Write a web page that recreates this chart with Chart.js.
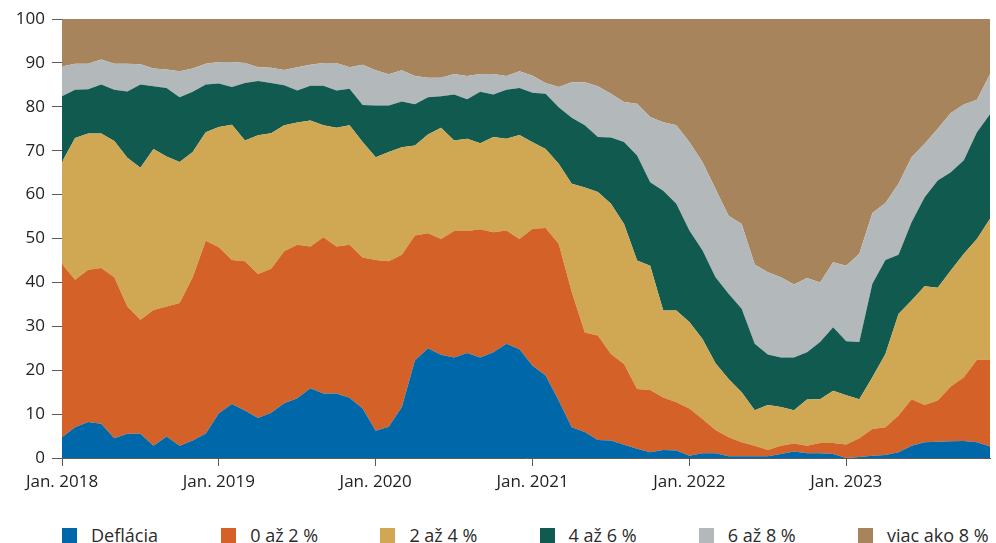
<!DOCTYPE html>
<html>
<head>
<meta charset="utf-8">
<script src="https://cdn.jsdelivr.net/npm/chart.js@4.4.1/dist/chart.umd.min.js"></script>
<style>
  html, body { margin: 0; padding: 0; background: #fff; }
  #wrap { position: relative; width: 996px; height: 543px; }
  #box { position: absolute; left: 0; top: 0; width: 996px; height: 500px; }
  #legend { position: absolute; left: 0; top: 523px; width: 996px; height: 20px;
    font-family: "Open Sans", sans-serif; font-size: 18px; color: #2b2b2b; }
  .item { position: absolute; top: 0; display: flex; align-items: center; white-space: nowrap; }
  .sw { width: 15px; height: 15px; margin-right: 14px; }
</style>
</head>
<body>
<div id="wrap">
  <div id="box"><canvas id="inflChart"></canvas></div>
  <div id="legend"></div>
</div>
<script>
// months Jan 2018 .. Dec 2023
var years = [2018, 2019, 2020, 2021, 2022, 2023];
var tickLabels = ['Jan. 2018', 'Jan. 2019', 'Jan. 2020', 'Jan. 2021', 'Jan. 2022', 'Jan. 2023'];
var months = [];
years.forEach(function (y) {
  for (var m = 1; m <= 12; m++) months.push(m + '/' + y);
});

var seriesNames = ['Deflácia', '0 až 2 %', '2 až 4 %', '4 až 6 %', '6 až 8 %', 'viac ako 8 %'];
var colors = ['#0067a8', '#d46228', '#d0a752', '#115a4f', '#b3b8ba', '#a7845b'];

// cumulative share (%) of items up to each band's upper limit
var deflation = [
  4.7, 7.0, 8.2, 7.8, 4.5, 5.5, 5.5, 2.8, 4.9, 2.8, 4.0, 5.6,
  10.2, 12.3, 10.8, 9.1, 10.3, 12.5, 13.6, 15.9, 14.7, 14.7, 13.7, 11.3,
  6.2, 7.1, 11.6, 22.2, 25.0, 23.5, 22.9, 23.9, 22.9, 24.1, 26.0, 24.8,
  21.0, 18.8, 13.1, 7.0, 5.9, 4.1, 4.0, 3.0, 2.1, 1.3, 1.8, 1.7,
  0.5, 1.1, 1.1, 0.4, 0.4, 0.4, 0.4, 0.9, 1.5, 1.1, 1.1, 0.9,
  0.0, 0.2, 0.5, 0.7, 1.3, 2.8, 3.6, 3.7, 3.8, 3.9, 3.6, 2.6
];
var upTo2 = [
  44.2, 40.6, 42.9, 43.3, 41.2, 34.5, 31.5, 33.7, 34.5, 35.3, 41.2, 49.5,
  48.0, 45.1, 44.8, 41.9, 43.1, 47.1, 48.6, 48.2, 50.3, 48.2, 48.6, 45.7,
  45.1, 44.8, 46.3, 50.7, 51.2, 49.9, 51.7, 51.7, 52.1, 51.4, 51.8, 49.9,
  52.2, 52.4, 48.8, 37.8, 28.6, 27.9, 23.7, 21.4, 15.7, 15.5, 13.8, 12.7,
  11.3, 8.9, 6.4, 4.7, 3.6, 2.8, 1.8, 2.8, 3.3, 2.8, 3.4, 3.4,
  3.1, 4.5, 6.6, 7.0, 9.7, 13.4, 12.1, 13.1, 16.3, 18.4, 22.4, 22.3
];
var upTo4 = [
  67.4, 72.9, 73.9, 73.9, 72.2, 68.4, 66.1, 70.4, 68.7, 67.4, 69.7, 74.2,
  75.4, 75.9, 72.3, 73.5, 74.0, 75.8, 76.4, 76.9, 75.8, 75.2, 75.8, 72.0,
  68.5, 69.7, 70.8, 71.2, 73.7, 75.2, 72.3, 72.7, 71.7, 73.1, 72.7, 73.6,
  71.9, 70.4, 67.0, 62.5, 61.6, 60.6, 57.9, 53.3, 45.0, 43.8, 33.6, 33.6,
  31.0, 27.1, 21.6, 18.0, 15.0, 10.9, 12.1, 11.6, 10.9, 13.3, 13.4, 15.3,
  14.3, 13.4, 18.4, 23.7, 32.8, 35.9, 39.1, 38.8, 42.7, 46.5, 49.9, 54.5
];
var upTo6 = [
  82.4, 83.9, 84.0, 85.1, 83.9, 83.5, 85.1, 84.7, 84.3, 82.2, 83.4, 85.1,
  85.3, 84.5, 85.4, 85.9, 85.4, 84.9, 83.7, 84.8, 84.8, 83.7, 84.1, 80.4,
  80.3, 80.3, 81.2, 80.6, 82.2, 82.4, 82.8, 81.7, 83.4, 82.8, 83.9, 84.3,
  83.2, 83.0, 79.9, 77.5, 75.8, 73.1, 73.0, 72.0, 68.9, 62.8, 60.9, 57.9,
  51.8, 47.3, 41.2, 37.4, 34.0, 26.0, 23.6, 22.9, 22.9, 24.1, 26.4, 29.8,
  26.6, 26.4, 39.7, 45.1, 46.3, 53.7, 59.4, 63.2, 65.1, 67.8, 74.2, 78.3
];
var upTo8 = [
  89.2, 89.8, 89.8, 90.8, 89.8, 89.8, 89.7, 88.7, 88.5, 88.1, 88.7, 89.8,
  90.2, 90.2, 90.0, 89.0, 88.9, 88.4, 89.0, 89.6, 90.0, 90.0, 89.0, 89.6,
  88.3, 87.4, 88.3, 87.0, 86.6, 86.6, 87.5, 87.0, 87.5, 87.5, 87.0, 88.1,
  87.1, 85.4, 84.5, 85.6, 85.6, 84.7, 83.0, 81.1, 80.7, 77.7, 76.5, 75.8,
  72.0, 67.4, 61.3, 55.2, 53.3, 44.1, 42.3, 41.2, 39.5, 41.0, 40.0, 44.6,
  43.8, 46.5, 55.8, 58.1, 62.5, 68.5, 71.6, 75.0, 78.6, 80.5, 81.6, 87.4
];

var axisColor = '#5a5a5a';
var fontDef = { family: '"Open Sans", sans-serif', size: 17 };

// each band fills down to the previous boundary; the last one fills up to 100
var bounds = [deflation, upTo2, upTo4, upTo6, upTo8, upTo8];
var fills = ['origin', '-1', '-1', '-1', '-1', 'end'];
var datasets = bounds.map(function (d, i) {
  return {
    label: seriesNames[i],
    data: d,
    fill: fills[i],
    backgroundColor: colors[i],
    borderWidth: 0,
    pointRadius: 0,
    tension: 0
  };
});

new Chart(document.getElementById('inflChart'), {
  type: 'line',
  data: { labels: months, datasets: datasets },
  options: {
    responsive: true,
    maintainAspectRatio: false,
    animation: false,
    layout: { padding: { top: 19, right: 3, bottom: 0, left: 0 } },
    plugins: { legend: { display: false }, tooltip: { enabled: false } },
    scales: {
      x: {
        offset: false,
        grid: {
          drawOnChartArea: false,
          tickLength: 8,
          color: function (ctx) { return ctx.index % 12 === 0 ? axisColor : 'rgba(0,0,0,0)'; }
        },
        border: { color: axisColor, width: 1 },
        ticks: {
          autoSkip: false,
          maxRotation: 0,
          padding: 6,
          color: '#222',
          font: fontDef,
          callback: function (v, i) { return i % 12 === 0 ? tickLabels[i / 12] : ''; }
        },
        afterFit: function (s) { s.height = 42; }
      },
      y: {
        min: 0,
        max: 100,
        grid: { drawOnChartArea: false, tickLength: 10, color: axisColor },
        border: { color: axisColor, width: 1 },
        ticks: { stepSize: 10, padding: 7, color: '#222', font: fontDef },
        afterFit: function (s) { s.width = 62; }
      }
    }
  }
});

// legend spread along the width under the chart
var legend = document.getElementById('legend');
seriesNames.forEach(function (name, i) {
  var it = document.createElement('div');
  it.className = 'item';
  it.style.left = (62 + i * 159.2) + 'px';
  it.innerHTML = '<span class="sw" style="background:' + colors[i] + '"></span><span>' + name + '</span>';
  legend.appendChild(it);
});
</script>
</body>
</html>
